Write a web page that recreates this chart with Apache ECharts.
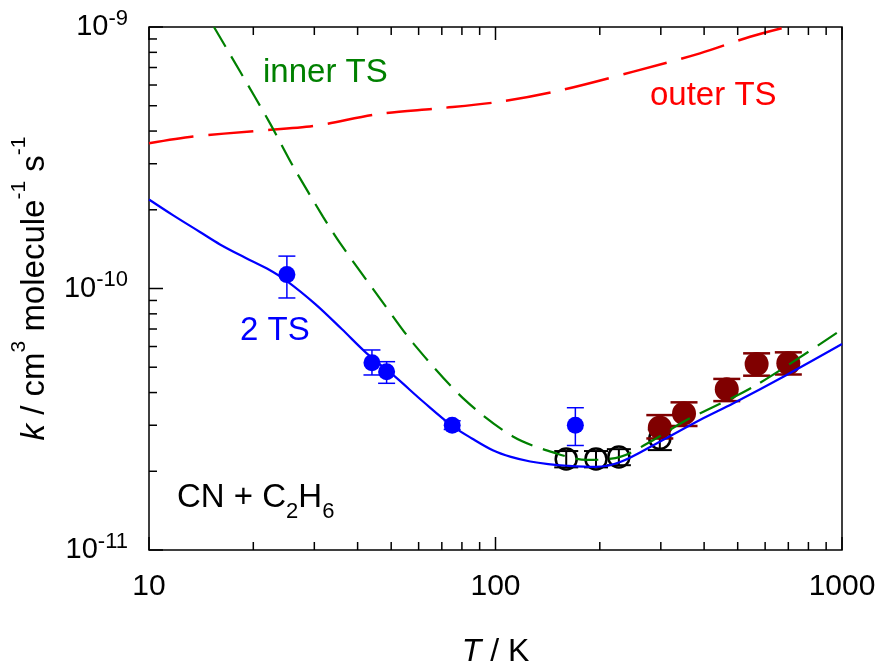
<!DOCTYPE html>
<html>
<head>
<meta charset="utf-8">
<script src="https://cdn.jsdelivr.net/npm/echarts@6/dist/echarts.min.js"></script>
<style>html,body{margin:0;padding:0;background:#fff;}#c{width:882px;height:668px;}</style>
</head>
<body>
<div id="c"></div>
<script>
// ---- data ----
const blueT  = [25, 44, 48.5, 75, 170];
const blueK  = [1.13e-10, 5.2e-11, 4.8e-11, 3.0e-11, 3.0e-11];
const blueLo = [9.2e-11, 4.67e-11, 4.34e-11, 2.89e-11, 2.51e-11];
const blueHi = [1.33e-10, 5.82e-11, 5.25e-11, 3.12e-11, 3.50e-11];

const openT  = [160, 195, 227, 298];
const openK  = [2.23e-11, 2.23e-11, 2.27e-11, 2.67e-11];
const openLo = [2.07e-11, 2.07e-11, 2.11e-11, 2.41e-11];
const openHi = [2.39e-11, 2.39e-11, 2.43e-11, 2.89e-11];

const darkT  = [298, 350, 465, 567, 700];
const darkK  = [2.94e-11, 3.33e-11, 4.12e-11, 5.14e-11, 5.18e-11];
const darkLo = [2.67e-11, 2.98e-11, 3.71e-11, 4.64e-11, 4.69e-11];
const darkHi = [3.28e-11, 3.67e-11, 4.51e-11, 5.65e-11, 5.70e-11];

const twoTsT = [10, 11.75, 14.03, 16.03, 18.9, 21.9, 25, 30.2, 36, 42.5, 51.3, 62, 74.8, 85.5, 98.6, 110.8, 126, 142, 161, 194, 229, 297, 389, 486, 692, 1000];
const twoTsK = [2.19e-10, 1.904e-10, 1.645e-10, 1.474e-10, 1.314e-10, 1.193e-10, 1.068e-10, 8.72e-11, 7.0e-11, 5.65e-11, 4.60e-11, 3.68e-11, 2.99e-11, 2.67e-11, 2.40e-11, 2.27e-11, 2.18e-11, 2.13e-11, 2.10e-11, 2.08e-11, 2.17e-11, 2.59e-11, 3.14e-11, 3.64e-11, 4.67e-11, 6.13e-11];

const innerT = [15.4, 18.3, 22.35, 26.1, 31.8, 35.6, 47.5, 57.9, 80.7, 112.6, 150, 183, 229, 285, 356, 555, 1000];
const innerK = [1e-9, 6.77e-10, 4.28e-10, 2.92e-10, 1.88e-10, 1.49e-10, 8.78e-11, 6.17e-11, 3.80e-11, 2.71e-11, 2.34e-11, 2.21e-11, 2.27e-11, 2.63e-11, 3.14e-11, 4.21e-11, 6.98e-11];

const outerT = [10, 13.4, 20.2, 29.8, 45.9, 69.2, 103, 155, 250, 389, 543, 692];
const outerK = [3.59e-10, 3.81e-10, 4.00e-10, 4.18e-10, 4.65e-10, 4.89e-10, 5.18e-10, 5.74e-10, 6.75e-10, 7.93e-10, 9.18e-10, 1e-9];

const xMajor = [10, 100, 1000];
const xMinor = [20,30,40,50,60,70,80,90,200,300,400,500,600,700,800,900];
const yMajor = [1e-11, 1e-10, 1e-9];
const yMinor = [2e-11,3e-11,4e-11,5e-11,6e-11,7e-11,8e-11,9e-11,2e-10,3e-10,4e-10,5e-10,6e-10,7e-10,8e-10,9e-10];

// ---- chart ----
const FONT = 'Liberation Sans';
const zip = (a, b) => a.map((v, i) => [v, b[i]]);

function errSeries(T, lo, hi, color, cap, lw, z) {
  return {
    type: 'custom', silent: true, z: z,
    data: T.map((t, i) => [t, lo[i], hi[i]]),
    encode: { x: 0, y: [1, 2] },
    renderItem(params, api) {
      const x = api.value(0);
      const p1 = api.coord([x, api.value(1)]);
      const p2 = api.coord([x, api.value(2)]);
      const h = cap / 2;
      const st = { stroke: color, lineWidth: lw };
      return { type: 'group', children: [
        { type: 'line', shape: { x1: p1[0], y1: p1[1], x2: p2[0], y2: p2[1] }, style: st },
        { type: 'line', shape: { x1: p1[0] - h, y1: p1[1], x2: p1[0] + h, y2: p1[1] }, style: st },
        { type: 'line', shape: { x1: p2[0] - h, y1: p2[1], x2: p2[0] + h, y2: p2[1] }, style: st }
      ]};
    }
  };
}

function xTickSeries(vals, len) {
  return {
    type: 'custom', silent: true, z: 20,
    data: vals.map(v => [v, 1e-11]),
    renderItem(params, api) {
      const cs = params.coordSys;
      const x = api.coord([api.value(0), 1e-11])[0];
      const st = { stroke: '#000', lineWidth: 1.5 };
      return { type: 'group', children: [
        { type: 'line', shape: { x1: x, y1: cs.y + cs.height, x2: x, y2: cs.y + cs.height - len }, style: st },
        { type: 'line', shape: { x1: x, y1: cs.y, x2: x, y2: cs.y + len }, style: st }
      ]};
    }
  };
}
function yTickSeries(vals, len) {
  return {
    type: 'custom', silent: true, z: 20,
    data: vals.map(v => [10, v]),
    renderItem(params, api) {
      const cs = params.coordSys;
      const y = api.coord([10, api.value(1)])[1];
      return { type: 'line', shape: { x1: cs.x, y1: y, x2: cs.x + len, y2: y }, style: { stroke: '#000', lineWidth: 1.5 } };
    }
  };
}

const chart = echarts.init(document.getElementById('c'), null, { renderer: 'canvas' });
chart.setOption({
  animation: false,
  backgroundColor: '#fff',
  textStyle: { fontFamily: FONT },
  grid: { left: 149, top: 27, right: 40, bottom: 118, containLabel: false, outerBoundsMode: 'none',
          show: true, borderColor: '#000', borderWidth: 1.5, backgroundColor: 'transparent' },
  xAxis: {
    type: 'log', logBase: 10, min: 10, max: 1000,
    axisLine: { show: false }, axisTick: { show: false }, splitLine: { show: false },
    axisLabel: { fontSize: 30, color: '#000', margin: 22, fontFamily: FONT, formatter: v => String(Math.round(v)) },
    name: '{i|T} / K', nameLocation: 'middle', nameGap: 86,
    nameTextStyle: { fontSize: 32, color: '#000', fontFamily: FONT,
      rich: { i: { fontStyle: 'italic', fontSize: 32, fontFamily: FONT } } }
  },
  yAxis: {
    type: 'log', logBase: 10, min: 1e-11, max: 1e-9,
    axisLine: { show: false }, axisTick: { show: false }, splitLine: { show: false },
    axisLabel: {
      margin: 21, color: '#000',
      formatter: v => '{a|10}{b|' + Math.round(Math.log10(v)) + '}',
      rich: {
        a: { fontSize: 29, lineHeight: 39, fontFamily: FONT, color: '#000' },
        b: { fontSize: 22, lineHeight: 22, verticalAlign: 'top', fontFamily: FONT, color: '#000' }
      }
    },
    name: '{i|k}{m| / cm}{s|3}{m| molecule}{s|-1}{m| s}{s|-1}',
    nameLocation: 'middle', nameRotate: 90, nameGap: 88,
    nameTextStyle: {
      color: '#000',
      rich: {
        i: { fontSize: 33, lineHeight: 52, fontStyle: 'italic', fontFamily: FONT, color: '#000' },
        m: { fontSize: 33, lineHeight: 52, fontFamily: FONT, color: '#000' },
        s: { fontSize: 21, lineHeight: 21, verticalAlign: 'top', fontFamily: FONT, color: '#000' }
      }
    }
  },
  graphic: [
    { type: 'text', left: 263, top: 56, z: 50, style: { text: 'inner TS', font: '33px "Liberation Sans"', fill: '#008000' } },
    { type: 'text', left: 650, top: 79, z: 50, style: { text: 'outer TS', font: '33px "Liberation Sans"', fill: '#ff0000' } },
    { type: 'text', left: 240, top: 314, z: 50, style: { text: '2 TS', font: '33px "Liberation Sans"', fill: '#0000ff' } },
    { type: 'text', left: 177, top: 481, z: 50, style: {
        text: '{a|CN + C}{s|2}{a|H}{s|6}',
        rich: {
          a: { fontSize: 33, lineHeight: 50, fontFamily: FONT, fill: '#000' },
          s: { fontSize: 22, lineHeight: 22, verticalAlign: 'bottom', fontFamily: FONT, fill: '#000' }
        } } }
  ],
  series: [
    xTickSeries(xMajor, 13), xTickSeries(xMinor, 8),
    yTickSeries(yMajor, 14), yTickSeries(yMinor, 8),
    errSeries(openT, openLo, openHi, '#000', 24, 2, 2),
    { type: 'scatter', z: 3, data: zip(openT, openK), symbol: 'circle', symbolSize: 21,
      itemStyle: { color: 'rgba(0,0,0,0)', borderColor: '#000', borderWidth: 2.5, opacity: 1 } },
    errSeries(darkT, darkLo, darkHi, '#800000', 27, 2.5, 4),
    { type: 'scatter', z: 4, data: zip(darkT, darkK), symbol: 'circle', symbolSize: 24,
      itemStyle: { color: '#800000', opacity: 1 } },
    errSeries(blueT, blueLo, blueHi, '#0000ff', 17, 1.5, 4),
    { type: 'scatter', z: 4, data: zip(blueT, blueK), symbol: 'circle', symbolSize: 17,
      itemStyle: { color: '#0000ff', opacity: 1 } },
    { type: 'line', z: 6, data: zip(outerT, outerK), symbol: 'none', smooth: 0.3,
      lineStyle: { color: '#ff0000', width: 2.5, type: [45, 15] } },
    { type: 'line', z: 6, data: zip(innerT, innerK), symbol: 'none', smooth: 0.3,
      lineStyle: { color: '#008000', width: 2.2, type: [23, 11] } },
    { type: 'line', z: 6, data: zip(twoTsT, twoTsK), symbol: 'none', smooth: 0.35,
      lineStyle: { color: '#0000ff', width: 2.2 } }
  ]
});
</script>
</body>
</html>
